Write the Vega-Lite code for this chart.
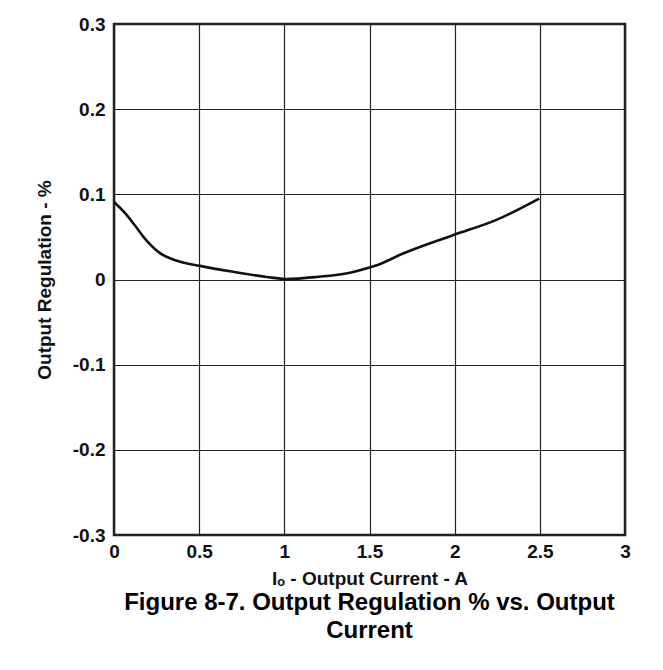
{
  "$schema": "https://vega.github.io/schema/vega-lite/v6.json",
  "autosize": {"type": "none"},
  "padding": {"left": 114, "top": 24, "right": 38, "bottom": 135},
  "width": 511,
  "height": 511,
  "background": "white",
  "title": {
    "text": ["Figure 8-7. Output Regulation % vs. Output", "Current"],
    "orient": "bottom",
    "anchor": "middle",
    "font": "Liberation Sans",
    "fontSize": 24,
    "fontWeight": "bold",
    "color": "#000000",
    "lineHeight": 28,
    "offset": 3
  },
  "data": {
    "values": [
      {"current": 0.0, "reg": 0.091},
      {"current": 0.06, "reg": 0.079},
      {"current": 0.113, "reg": 0.066},
      {"current": 0.19, "reg": 0.046},
      {"current": 0.27, "reg": 0.031},
      {"current": 0.37, "reg": 0.022},
      {"current": 0.505, "reg": 0.016},
      {"current": 0.7, "reg": 0.009},
      {"current": 0.896, "reg": 0.003},
      {"current": 1.01, "reg": 0.0006},
      {"current": 1.19, "reg": 0.003},
      {"current": 1.385, "reg": 0.008},
      {"current": 1.5, "reg": 0.014},
      {"current": 1.56, "reg": 0.018},
      {"current": 1.68, "reg": 0.029},
      {"current": 1.99, "reg": 0.052},
      {"current": 2.245, "reg": 0.07},
      {"current": 2.496, "reg": 0.095}
    ]
  },
  "mark": {"type": "line", "color": "#111111", "strokeWidth": 2.6, "interpolate": "monotone"},
  "encoding": {
    "x": {
      "field": "current",
      "type": "quantitative",
      "scale": {"domain": [0, 3], "nice": false},
      "axis": {
        "values": [0, 0.5, 1, 1.5, 2, 2.5, 3],
        "labelExpr": "replace(format(datum.value, '~g'), '\u2212', '-')",
        "labelFlush": false,
        "labelPadding": 7,
        "title": "I\u2092 - Output Current - A",
        "titlePadding": 8
      }
    },
    "y": {
      "field": "reg",
      "type": "quantitative",
      "scale": {"domain": [-0.3, 0.3], "nice": false},
      "axis": {
        "values": [-0.3, -0.2, -0.1, 0, 0.1, 0.2, 0.3],
        "labelExpr": "replace(format(datum.value, '~g'), '\u2212', '-')",
        "labelFlush": false,
        "labelPadding": 9,
        "title": "Output Regulation - %",
        "titlePadding": 18
      }
    }
  },
  "config": {
    "view": {"stroke": "#222222", "strokeWidth": 2.5},
    "axis": {
      "domain": false,
      "ticks": false,
      "grid": true,
      "gridColor": "#222222",
      "gridWidth": 1.2,
      "gridOpacity": 1,
      "labelFont": "Liberation Sans",
      "labelFontSize": 19,
      "labelFontWeight": "bold",
      "labelColor": "#111111",
      "titleFont": "Liberation Sans",
      "titleFontSize": 19,
      "titleFontWeight": "bold",
      "titleColor": "#111111"
    }
  }
}
